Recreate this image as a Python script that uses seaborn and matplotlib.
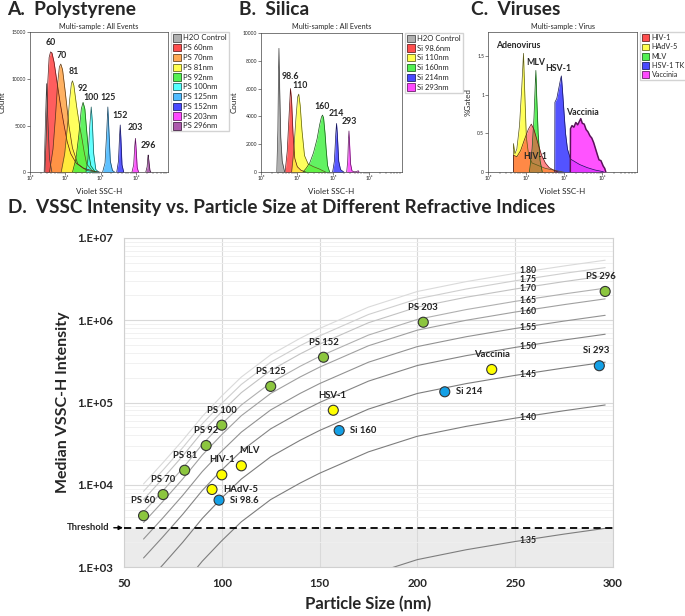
import numpy as np
import pandas as pd
import matplotlib
matplotlib.use('Agg')
import matplotlib.pyplot as plt
import matplotlib.colors as mcolors
from matplotlib.patches import Patch
from matplotlib.ticker import FuncFormatter, LogLocator, NullFormatter
import seaborn as sns

sns.set_style('white')
plt.rcParams['font.family'] = ['Lato', 'DejaVu Sans']

# ---------------- Panel A: polystyrene histograms (x = log10 Violet SSC-H, y = count)
a_names = ['H2O Control', 'PS 60nm', 'PS 70nm', 'PS 81nm', 'PS 92nm', 'PS 100nm',
           'PS 125nm', 'PS 152nm', 'PS 203nm', 'PS 296nm']
a_colors = ['#a8a8a8', '#ff3b3b', '#ffa040', '#ffff3b', '#40f040', '#40ffff',
            '#3cb4ff', '#3535ff', '#ff35ff', '#a448a4']
a_peak_labels = ['', '60', '70', '81', '92', '100', '125', '152', '203', '296']
a_logx = [
    [3.40, 3.44, 3.47, 3.50, 3.55, 3.62],
    [3.42, 3.46, 3.50, 3.54, 3.58, 3.62, 3.68, 3.75, 3.85, 3.95, 4.05, 4.15, 4.30, 4.50, 4.80, 5.00],
    [3.55, 3.65, 3.72, 3.78, 3.83, 3.87, 3.92, 4.00, 4.10, 4.20, 4.35, 4.60, 4.90],
    [3.88, 3.98, 4.06, 4.12, 4.17, 4.20, 4.24, 4.32, 4.40, 4.46, 4.53, 4.60, 4.75, 4.90],
    [4.20, 4.30, 4.38, 4.45, 4.50, 4.55, 4.60, 4.66, 4.72, 4.85],
    [4.58, 4.64, 4.69, 4.73, 4.76, 4.80, 4.86, 4.95],
    [5.05, 5.12, 5.17, 5.20, 5.23, 5.27, 5.33, 5.40],
    [5.45, 5.50, 5.53, 5.55, 5.57, 5.60, 5.65],
    [5.88, 5.93, 5.96, 5.98, 6.00, 6.03, 6.07],
    [6.27, 6.31, 6.33, 6.34, 6.36, 6.39, 6.42],
]
a_counts = [
    [0, 6000, 9500, 6000, 1500, 0],
    [0, 4000, 9500, 12300, 12900, 12800, 11800, 10000, 7500, 5300, 3300, 2000, 1000, 450, 120, 0],
    [0, 2500, 6000, 9500, 11300, 11600, 11000, 8500, 5000, 2600, 900, 200, 0],
    [0, 2000, 5000, 7800, 9500, 9800, 9300, 7000, 5000, 3800, 2200, 900, 200, 0],
    [0, 1500, 4000, 6800, 7500, 6800, 4500, 2000, 700, 0],
    [0, 1500, 5000, 7000, 5500, 2000, 300, 0],
    [0, 1000, 4500, 7000, 4500, 1200, 200, 0],
    [0, 1200, 3800, 5070, 3500, 800, 0],
    [0, 800, 2800, 3640, 2500, 500, 0],
    [0, 600, 1600, 1860, 1200, 200, 0],
]

# ---------------- Panel B: silica histograms
b_names = ['H2O Control', 'Si 98.6nm', 'Si 110nm', 'Si 160nm', 'Si 214nm', 'Si 293nm']
b_colors = ['#a8a8a8', '#ff3b3b', '#ffff3b', '#40f040', '#3535ff', '#ff35ff']
b_peak_labels = ['', '98.6', '110', '160', '214', '293']
b_logx = [
    [3.43, 3.46, 3.48, 3.49, 3.51, 3.54, 3.58, 3.65],
    [3.66, 3.72, 3.77, 3.81, 3.84, 3.88, 3.93, 4.00, 4.10, 4.25],
    [3.84, 3.90, 3.96, 4.01, 4.04, 4.08, 4.13, 4.20, 4.30, 4.45, 4.60, 4.80],
    [4.15, 4.25, 4.35, 4.45, 4.55, 4.62, 4.67, 4.70, 4.73, 4.77, 4.80, 4.84, 4.90],
    [4.98, 5.03, 5.07, 5.09, 5.11, 5.15, 5.20, 5.30],
    [5.37, 5.40, 5.42, 5.435, 5.45, 5.48, 5.52, 5.60, 5.67, 5.69, 5.72],
]
b_counts = [
    [0, 3000, 7500, 8880, 6000, 2500, 800, 0],
    [0, 1500, 4000, 6000, 5200, 2800, 1000, 400, 150, 0],
    [0, 1500, 3800, 5400, 5600, 4800, 3000, 1200, 600, 400, 250, 0],
    [0, 300, 700, 1400, 2400, 3400, 3950, 4100, 3900, 2800, 1700, 500, 0],
    [0, 800, 2800, 3500, 2800, 800, 200, 0],
    [0, 800, 2300, 2960, 2200, 600, 100, 30, 80, 120, 0],
]

# ---------------- Panel C: virus histograms (%Gated)
c_names = ['HIV-1', 'HAdV-5', 'MLV', 'HSV-1 TK', 'Vaccinia']
c_colors = ['#ff3b3b', '#ffff3b', '#40f040', '#3535ff', '#ff35ff']
c_peak_labels = ['HIV-1', 'Adenovirus', 'MLV', 'HSV-1', 'Vaccinia']
c_logx = [
    [3.660, 3.661, 3.75, 3.85, 3.95, 4.05, 4.13, 4.20, 4.30, 4.40, 4.50, 4.60, 4.75, 4.85],
    [3.660, 3.661, 3.70, 3.75, 3.82, 3.88, 3.925, 3.96, 4.00, 4.06, 4.15, 4.50, 5.00],
    [4.08, 4.15, 4.20, 4.235, 4.25, 4.27, 4.31, 4.36, 4.42],
    [4.745, 4.75, 4.80, 4.86, 4.90, 4.92, 4.95, 5.00, 5.03, 5.08, 5.16, 5.40, 5.60, 5.80, 6.00, 6.05],
    [5.155, 5.16, 5.20, 5.25, 5.30, 5.35, 5.40, 5.43, 5.47, 5.52, 5.57, 5.62, 5.67, 5.72,
     5.77, 5.82, 5.87, 5.91, 5.96, 6.02, 6.06, 6.09],
]
c_pct = [
    [0, 0.22, 0.20, 0.28, 0.42, 0.55, 0.62, 0.55, 0.38, 0.22, 0.12, 0.06, 0.02, 0],
    [0, 0.37, 0.24, 0.30, 0.60, 1.10, 1.53, 1.00, 0.45, 0.22, 0.12, 0.05, 0],
    [0, 0.30, 0.70, 1.15, 1.31, 1.00, 0.50, 0.15, 0],
    [0, 0.90, 0.95, 1.10, 1.20, 1.24, 1.05, 0.70, 0.50, 0.30, 0.17, 0.10, 0.06, 0.03, 0.01, 0],
    [0, 0.56, 0.60, 0.58, 0.64, 0.61, 0.66, 0.69, 0.63, 0.62, 0.55, 0.52, 0.47, 0.44,
     0.38, 0.30, 0.22, 0.16, 0.15, 0.08, 0.05, 0],
]

# ---------------- Panel D: median VSSC-H vs particle size
pt_names = ['PS 60', 'PS 70', 'PS 81', 'PS 92', 'PS 100', 'PS 125', 'PS 152', 'PS 203', 'PS 296',
            'HSV-1', 'Vaccinia', 'MLV', 'HIV-1', 'HAdV-5',
            'Si 98.6', 'Si 160', 'Si 214', 'Si 293']
pt_size = [60, 70, 81, 92, 100, 125, 152, 203, 296,
           157, 238, 110, 100, 95,
           98.6, 160, 214, 293]
pt_vssc = [4200, 7600, 15000, 30000, 53000, 157000, 355000, 946000, 2240000,
           80500, 252000, 17000, 13200, 8760,
           6500, 45600, 135000, 280000]
pt_kind = ['PS'] * 9 + ['Virus'] * 5 + ['Silica'] * 4

# refractive-index curves, log10(intensity) read at these sizes
ri_size = [60, 70, 80, 90, 100, 110, 125, 140, 150, 175, 200, 225, 250, 275, 296]
ri_labels = ['1.80', '1.75', '1.70', '1.65', '1.60', '1.55', '1.50', '1.45', '1.40', '1.35']
ri_180 = [4.01, 4.27, 4.54, 4.83, 5.08, 5.31, 5.58, 5.78, 5.90, 6.16, 6.35, 6.47, 6.57, 6.66, 6.73]
ri_175 = [3.92, 4.18, 4.45, 4.74, 4.99, 5.22, 5.49, 5.69, 5.81, 6.07, 6.26, 6.38, 6.48, 6.57, 6.64]
ri_170 = [3.82, 4.08, 4.35, 4.64, 4.89, 5.12, 5.39, 5.59, 5.71, 5.97, 6.16, 6.28, 6.38, 6.47, 6.54]
ri_165 = [3.67, 3.93, 4.20, 4.49, 4.74, 4.97, 5.24, 5.44, 5.56, 5.82, 6.01, 6.13, 6.23, 6.32, 6.39]
ri_160 = [3.54, 3.80, 4.07, 4.36, 4.61, 4.84, 5.11, 5.31, 5.43, 5.69, 5.88, 6.00, 6.10, 6.19, 6.26]
ri_155 = [3.34, 3.60, 3.87, 4.16, 4.41, 4.64, 4.91, 5.11, 5.23, 5.49, 5.68, 5.80, 5.90, 5.99, 6.06]
ri_150 = [3.11, 3.37, 3.64, 3.93, 4.18, 4.41, 4.68, 4.88, 5.00, 5.26, 5.45, 5.57, 5.67, 5.76, 5.83]
ri_145 = [2.77, 3.03, 3.30, 3.59, 3.84, 4.07, 4.34, 4.54, 4.66, 4.92, 5.11, 5.23, 5.33, 5.42, 5.49]
ri_140 = [2.25, 2.51, 2.78, 3.07, 3.32, 3.55, 3.82, 4.02, 4.14, 4.40, 4.59, 4.71, 4.81, 4.90, 4.97]
ri_135 = [0.75, 1.01, 1.28, 1.57, 1.82, 2.05, 2.32, 2.52, 2.64, 2.90, 3.09, 3.21, 3.31, 3.40, 3.47]
ri_curves = [ri_180, ri_175, ri_170, ri_165, ri_160, ri_155, ri_150, ri_145, ri_140, ri_135]
threshold = 3000

# ---------------- figure
W, H = 685, 616
fig = plt.figure(figsize=(W / 100, H / 100), dpi=100)


def box(l, t, r, b):
    return fig.add_axes([l / W, 1 - b / H, (r - l) / W, (b - t) / H])


def dark(c, f=0.35):
    return tuple(v * f for v in mcolors.to_rgb(c))


SUP = {3: '\u00b3', 4: '\u2074', 5: '\u2075', 6: '\u2076'}


def draw_hist(ax, colors, logx, ys, order, alphas, edge_lw):
    for i in order:
        x = 10 ** np.asarray(logx[i])
        ax.fill_between(x, ys[i], color=colors[i], alpha=alphas[i], lw=0)
        sns.lineplot(x=x, y=ys[i], ax=ax, color=dark(colors[i]), lw=edge_lw[i],
                     sort=False, estimator=None)


def style_hist(ax, ymax, yticks, ylabel, title, names, colors, legend_fs=5.5):
    ax.set_xscale('log')
    ax.set_xlim(1e3, 10 ** 6.9)
    ax.set_ylim(0, ymax)
    ax.set_yticks(yticks)
    ax.set_xticks([1e3, 1e4, 1e5, 1e6])
    ax.xaxis.set_major_formatter(FuncFormatter(lambda v, p: '10' + SUP.get(int(round(np.log10(v))), '')))
    ax.xaxis.set_minor_locator(LogLocator(subs=np.arange(2, 10)))
    ax.xaxis.set_minor_formatter(NullFormatter())
    ax.tick_params(labelsize=3.6, length=2, width=0.4, pad=1, bottom=True, left=True)
    ax.tick_params(which='minor', length=1.2, width=0.3, bottom=True)
    ax.set_xlabel('Violet SSC-H', fontsize=5.8, labelpad=5)
    ax.set_ylabel(ylabel, fontsize=5.8, labelpad=4)
    ax.set_title(title, fontsize=5.2, pad=2.5)
    for s in ax.spines.values():
        s.set_linewidth(0.5)
        s.set_color('#444444')
    handles = [Patch(facecolor=c, edgecolor=dark(c), lw=0.6, alpha=0.9) for c in colors]
    ax.legend(handles, names, loc='upper left', bbox_to_anchor=(1.025, 1.0), fontsize=legend_fs,
              frameon=True, fancybox=False, edgecolor='#c8c8c8', handlelength=1.0,
              handleheight=1.1, handletextpad=0.3, labelspacing=0.32, borderpad=0.25,
              borderaxespad=0)


def peak_labels(ax, logx, ys, labels, offsets):
    for lx, y, lab, off in zip(logx, ys, labels, offsets):
        if not lab:
            continue
        k = int(np.argmax(y))
        ax.annotate(lab, xy=(10 ** lx[k], y[k]), xytext=off, textcoords='offset points',
                    ha='center', va='center', fontsize=6.3, fontweight='bold')


# Panel A
axa = box(30, 32.3, 168, 172.3)
draw_hist(axa, a_colors, a_logx, a_counts, range(len(a_names)), [0.9] + [0.82] * 9, [0.5] * 10)
style_hist(axa, 15000, [0, 5000, 10000, 15000], 'Count', 'Multi-sample : All Events', a_names, a_colors)
peak_labels(axa, a_logx, a_counts, a_peak_labels,
            [(0, 7), (0, 7), (1, 6.5), (1, 7), (0, 9.8), (0, 6.5), (0, 6.5), (0, 6.5), (0, 7.5), (0, 6.5)])

# Panel B
axb = box(261.3, 32.7, 401.7, 172.3)
draw_hist(axb, b_colors, b_logx, b_counts, range(len(b_names)), [0.9] + [0.82] * 5, [0.5] * 6)
style_hist(axb, 10000, [0, 2000, 4000, 6000, 8000, 10000], 'Count', 'Multi-sample : All Events',
           b_names, b_colors)
peak_labels(axb, b_logx, b_counts, b_peak_labels, [(0, 7), (0, 8.5), (1, 6.5), (0, 6.5), (0, 7), (0, 6.5)])

# Panel C
axc = box(488.3, 32.3, 636.7, 172.3)
draw_hist(axc, c_colors, c_logx, c_pct, [1, 2, 3, 4, 0],
          [0.6, 0.85, 0.85, 0.85, 0.85], [0.5, 0.5, 0.5, 0.5, 1.1])
style_hist(axc, 1.8, [0, 0.5, 1, 1.5], '%Gated', 'Multi-sample : Virus', c_names, c_colors, legend_fs=5.2)
axc.set_yticklabels(['0', '0.5', '1', '1.5'])
peak_labels(axc, c_logx, c_pct, c_peak_labels, [(3, -23), (-4, 5.5), (0, 6), (-2, 5), (1, 4.5)])

# Panel headings
fig.text(7 / W, 1 - 9.5 / H, 'A.  Polystyrene', fontsize=13.8, fontweight='bold', va='center')
fig.text(239 / W, 1 - 9.5 / H, 'B.  Silica', fontsize=13.8, fontweight='bold', va='center')
fig.text(471 / W, 1 - 9.5 / H, 'C.  Viruses', fontsize=13.8, fontweight='bold', va='center')
fig.text(8 / W, 1 - 207 / H, 'D.  VSSC Intensity vs. Particle Size at Different Refractive Indices',
         fontsize=13.6, fontweight='bold', va='center')

# Panel D
axd = box(124, 238, 613, 567)
axd.set_yscale('log')
axd.set_xlim(50, 300)
axd.set_ylim(1e3, 1e7)
axd.axhspan(1e3, threshold, color='#ebebeb', lw=0, zorder=0)

curves = pd.DataFrame([(s, 10 ** v, lab) for lab, vals in zip(ri_labels, ri_curves)
                       for s, v in zip(ri_size, vals)], columns=['size', 'vssc', 'ri'])
ri_greys = ['#dadada', '#cfcfcf', '#c2c2c2', '#b0b0b0', '#a0a0a0', '#929292',
            '#858585', '#7d7d7d', '#7d7d7d', '#7d7d7d']
sns.lineplot(data=curves, x='size', y='vssc', hue='ri', palette=dict(zip(ri_labels, ri_greys)),
             ax=axd, lw=0.8, legend=False, sort=False, estimator=None, zorder=2)
ri_label_dy = {'1.80': 1.6, '1.75': 0.4, '1.70': -0.4}
for lab, vals in zip(ri_labels, ri_curves):
    axd.annotate(lab, xy=(252, 10 ** np.interp(252, ri_size, vals)),
                 xytext=(0, ri_label_dy.get(lab, 0)), textcoords='offset points',
                 fontsize=6.2, fontweight='bold', ha='left', va='center', color='#222222', zorder=3)

axd.axhline(threshold, color='black', lw=1.3, ls=(0, (4, 2.5)), zorder=3)
axd.annotate('Threshold', xy=(-0.002, threshold), xycoords=('axes fraction', 'data'),
             xytext=(-10, 0), textcoords='offset points', ha='right', va='center',
             fontsize=6.8, fontweight='bold',
             arrowprops=dict(arrowstyle='-|>', color='black', lw=1, mutation_scale=6,
                             shrinkA=1, shrinkB=0), annotation_clip=False)

pts = pd.DataFrame({'size': pt_size, 'vssc': pt_vssc, 'kind': pt_kind, 'name': pt_names})
sns.scatterplot(data=pts, x='size', y='vssc', hue='kind',
                palette={'PS': '#8cc63f', 'Virus': '#ffff00', 'Silica': '#14a0e6'},
                s=52, edgecolor='#333333', linewidth=0.8, legend=False, zorder=5, ax=axd)

right_side = {'Si 214', 'Si 160', 'HAdV-5', 'Si 98.6'}
nudge = {'PS 296': -3, 'MLV': 6, 'Si 293': -2, 'HSV-1': -1}
for name, s, v in zip(pt_names, pt_size, pt_vssc):
    if name in right_side:
        off, ha = (8, 0), 'left'
    else:
        off, ha = (nudge.get(name, 0), 10.8), 'center'
    axd.annotate(name, xy=(s, v), xytext=off, textcoords='offset points', ha=ha, va='center',
                 fontsize=6.8, fontweight='bold', color='#222222', zorder=6)

axd.set_xticks([50, 100, 150, 200, 250, 300], labels=['50', '100', '150', '200', '250', '300'],
               fontweight='bold', fontsize=8.3)
axd.set_yticks([1e3, 1e4, 1e5, 1e6, 1e7],
               labels=['1.E+03', '1.E+04', '1.E+05', '1.E+06', '1.E+07'], fontweight='bold', fontsize=8.3)
axd.yaxis.set_minor_locator(LogLocator(subs=np.arange(2, 10)))
axd.yaxis.set_minor_formatter(NullFormatter())
axd.tick_params(length=0, pad=8)
axd.tick_params(which='minor', length=0)
axd.grid(which='major', color='#d9d9d9', lw=0.8)
axd.grid(which='minor', axis='y', color='#efefef', lw=0.6)
axd.set_axisbelow(True)
for s in axd.spines.values():
    s.set_color('#d0d0d0')
    s.set_linewidth(0.8)
axd.set_xlabel('Particle Size (nm)', fontsize=12, fontweight='bold', labelpad=5)
axd.set_ylabel('Median VSSC-H Intensity', fontsize=11.5, fontweight='bold', labelpad=5)

fig.savefig('out.png', dpi=100)
